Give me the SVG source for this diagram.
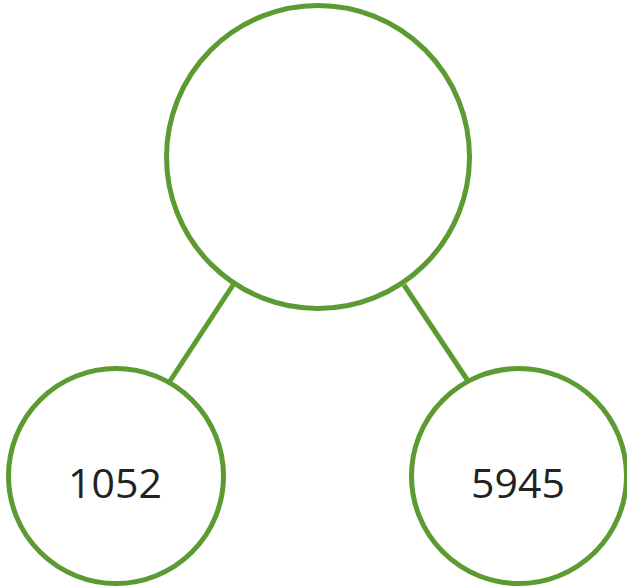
<svg xmlns="http://www.w3.org/2000/svg" width="627" height="587" viewBox="0 0 627 587">
<style>
.n{fill:#fff;stroke:#5b9b32;stroke-width:5}
.e{stroke:#5b9b32;stroke-width:5;fill:none}
.t{font-family:"Open Sans","Noto Sans",sans-serif;font-size:41px;fill:#222;text-anchor:middle}
</style>
<rect width="627" height="587" fill="#fff"/>
<g id="edges">
<line class="e" x1="233" y1="285" x2="170" y2="381"/>
<line class="e" x1="404" y1="285" x2="468" y2="381"/>
</g>
<g id="root"><circle class="n" cx="318" cy="157" r="151.5"/></g>
<g id="n1052"><circle class="n" cx="116" cy="476" r="107.5"/><text class="t" x="115" y="498">1052</text></g>
<g id="n5945"><circle class="n" cx="519" cy="476" r="107.5"/><text class="t" x="518" y="498">5945</text></g>
</svg>
